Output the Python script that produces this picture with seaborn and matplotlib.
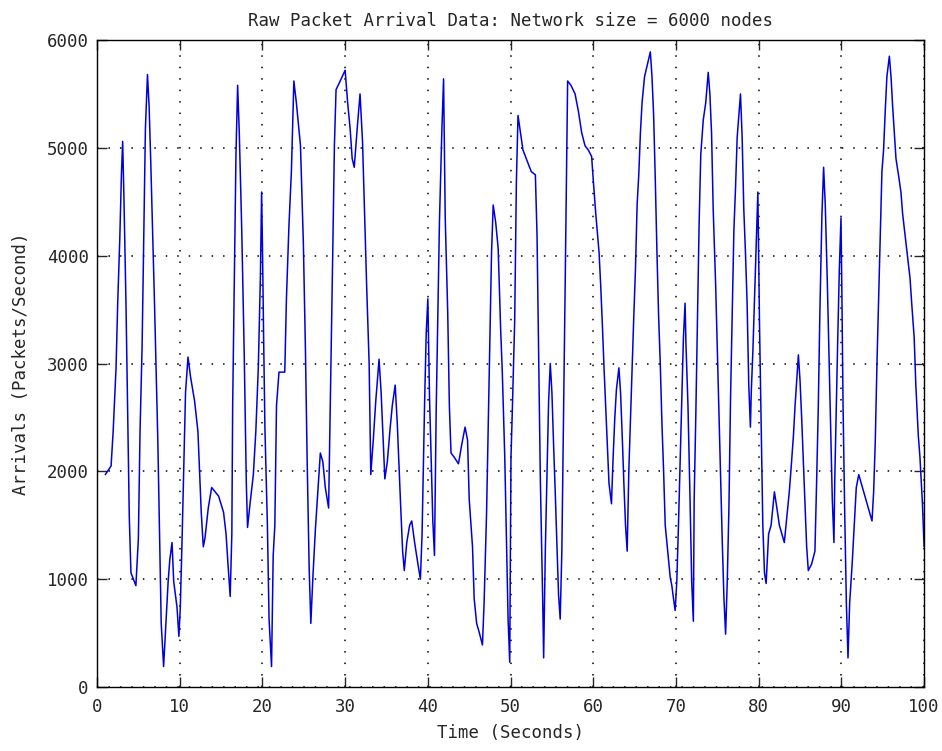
import matplotlib
matplotlib.use("Agg")
import matplotlib.pyplot as plt
import seaborn as sns
import pandas as pd

title_text = "Raw Packet Arrival Data: Network size = 6000 nodes"
x_label = "Time (Seconds)"
y_label = "Arrivals (Packets/Second)"
x_ticks = [0, 10, 20, 30, 40, 50, 60, 70, 80, 90, 100]
y_ticks = [0, 1000, 2000, 3000, 4000, 5000, 6000]

time_s = [
    1.0, 1.7, 1.95, 2.3, 2.5, 2.75, 2.95, 3.1, 3.25, 3.5, 3.7, 3.9, 4.1, 4.7, 5.0, 5.2, 5.45, 5.65, 5.85,
    6.1, 6.3, 6.5, 6.95, 7.35, 7.55, 7.76, 8.05, 8.3, 8.6, 8.8, 9.07, 9.27, 9.67, 9.9, 10.07, 10.3, 10.5,
    10.7, 11.0, 11.3, 11.8, 12.2, 12.6, 12.85, 13.05, 13.45, 13.86, 14.7, 15.3, 15.6, 15.8, 16.1, 16.3,
    16.4, 16.6, 16.8, 17.0, 17.2, 17.5, 17.8, 18.05, 18.2, 18.5, 18.9, 19.2, 19.5, 19.75, 19.9, 20.0,
    20.15, 20.3, 20.6, 20.8, 21.1, 21.3, 21.5, 21.7, 22.0, 22.7, 22.9, 23.2, 23.5, 23.8, 24.1, 24.35,
    24.6, 24.95, 25.2, 25.4, 25.65, 25.85, 26.1, 26.4, 26.7, 27.0, 27.3, 27.6, 28.0, 28.1, 28.3, 28.5,
    28.7, 28.9, 29.4, 30.0, 30.3, 30.6, 30.85, 31.1, 31.5, 31.8, 32.1, 32.3, 32.6, 32.9, 33.1, 33.4,
    33.7, 34.1, 34.35, 34.6, 34.8, 35.1, 35.45, 35.7, 36.05, 36.3, 36.7, 36.95, 37.15, 37.45, 37.8,
    38.05, 38.4, 38.8, 39.1, 39.3, 39.6, 39.8, 40.0, 40.2, 40.4, 40.6, 40.8, 41.0, 41.2, 41.4, 41.7,
    41.9, 42.1, 42.4, 42.6, 42.8, 43.2, 43.7, 44.1, 44.5, 44.8, 45.0, 45.4, 45.6, 45.9, 46.2, 46.6,
    46.8, 47.1, 47.3, 47.5, 47.7, 47.9, 48.2, 48.5, 48.8, 49.0, 49.3, 49.5, 49.7, 49.9, 50.05, 50.2,
    50.5, 50.7, 50.9, 51.2, 51.5, 51.9, 52.5, 53.0, 53.2, 53.4, 53.6, 53.9, 54.0, 54.2, 54.4, 54.6,
    54.8, 55.0, 55.2, 55.4, 55.6, 55.8, 56.0, 56.2, 56.4, 56.6, 56.8, 56.9, 57.3, 57.8, 58.2, 58.6,
    59.0, 59.4, 59.8, 60.0, 60.3, 60.7, 60.9, 61.1, 61.3, 61.5, 61.7, 61.9, 62.2, 62.4, 62.6, 62.8,
    63.1, 63.3, 63.5, 63.7, 63.9, 64.1, 64.3, 64.5, 64.7, 64.9, 65.1, 65.3, 65.5, 65.7, 65.9, 66.2,
    66.9, 67.1, 67.3, 67.5, 67.7, 67.9, 68.1, 68.3, 68.5, 68.7, 68.9, 69.1, 69.3, 69.5, 69.7, 69.9,
    70.1, 70.3, 70.5, 70.7, 70.9, 71.1, 71.2, 71.45, 71.7, 71.9, 72.1, 72.2, 72.4, 72.6, 72.8, 73.0,
    73.3, 73.6, 73.9, 74.1, 74.3, 74.5, 74.8, 75.0, 75.2, 75.4, 75.6, 75.8, 76.0, 76.2, 76.4, 76.6,
    76.8, 77.0, 77.2, 77.4, 77.6, 77.8, 78.0, 78.2, 78.4, 78.6, 78.8, 79.0, 79.1, 79.3, 79.5, 79.7,
    79.9, 80.1, 80.3, 80.5, 80.7, 80.9, 81.2, 81.5, 81.9, 82.2, 82.5, 82.8, 83.1, 83.4, 83.7, 83.9,
    84.2, 84.4, 84.6, 84.8, 85.0, 85.2, 85.4, 85.6, 85.8, 86.0, 86.4, 86.8, 87.0, 87.2, 87.4, 87.65,
    87.85, 88.05, 88.3, 88.5, 88.7, 88.9, 89.1, 89.2, 89.35, 89.55, 89.75, 89.95, 90.05, 90.2, 90.4,
    90.6, 90.8, 91.0, 91.3, 91.55, 91.8, 92.1, 92.4, 92.7, 93.1, 93.7, 93.9, 94.1, 94.3, 94.5, 94.7,
    94.9, 95.1, 95.3, 95.5, 95.8, 96.0, 96.2, 96.4, 96.6, 96.9, 97.2, 97.4, 97.7, 98.0, 98.3, 98.5,
    98.8, 99.0, 99.3, 99.5, 99.8, 100.0,
]

arrivals = [
    1970, 2050, 2370, 2960, 3560, 4150, 4750, 5060, 4550, 3560, 2570, 1580, 1060, 940, 1380, 2370, 3160, 4150, 5180,
    5680, 5380, 4860, 3560, 2290, 1460, 590, 190, 550, 980, 1180, 1340, 980, 740, 470, 740, 1420, 2090,
    2730, 3060, 2880, 2650, 2370, 1620, 1300, 1380, 1660, 1850, 1770, 1620, 1420, 1180, 840, 1420,
    2610, 3750, 4940, 5580, 5140, 4230, 3080, 1890, 1480, 1700, 1970, 2370, 2960, 3790, 4590, 4100,
    3200, 2400, 1500, 630, 190, 1220, 1500, 2610, 2920, 2920, 3600, 4270, 4780, 5620, 5420, 5220,
    5020, 4110, 3120, 2130, 1100, 590, 1020, 1460, 1810, 2170, 2090, 1850, 1660, 2130, 3080, 4030,
    5020, 5540, 5620, 5720, 5420, 5180, 4900, 4820, 5220, 5500, 5060, 4510, 3720, 3000, 1970, 2290,
    2650, 3040, 2730, 2290, 1930, 2090, 2410, 2610, 2800, 2450, 1700, 1260, 1080, 1340, 1500,
    1540, 1340, 1140, 1000, 1420, 2610, 3280, 3600, 2690, 2130, 1540, 1220, 2530, 3400, 4310, 5180,
    5640, 4350, 3480, 2610, 2170, 2130, 2070, 2250, 2410, 2290, 1740, 1300, 820, 590, 510, 390,
    780, 1620, 2410, 3240, 4030, 4470, 4310, 4070, 3320, 2920, 2130, 1380, 630, 230, 2130, 2530,
    3400, 4670, 5300, 5140, 4980, 4900, 4780, 4750, 4190, 3080, 1930, 740, 270, 1260, 1970, 2650,
    3000, 2730, 2250, 1810, 1340, 860, 630, 1260, 2530, 3720, 4980, 5620, 5580, 5500, 5340, 5140,
    5020, 4980, 4920, 4700, 4390, 4030, 3720, 3360, 2960, 2610, 2250, 1890, 1700, 2130, 2490, 2760,
    2960, 2730, 2330, 1890, 1500, 1260, 2010, 2490, 2960, 3440, 3870, 4470, 4750, 5140, 5420, 5660,
    5890, 5660, 5300, 4700, 4030, 3440, 3000, 2450, 2010, 1500, 1340, 1180, 1020, 940, 820, 710,
    980, 1500, 2090, 2690, 3240, 3560, 3200, 2610, 1740, 980, 610, 1740, 2530, 3400, 4310, 4940,
    5260, 5420, 5700, 5500, 5140, 4430, 3720, 3120, 2530, 1890, 1340, 820, 490, 980, 1660, 2690,
    3480, 4230, 4630, 5100, 5300, 5500, 5100, 4430, 4030, 3560, 2800, 2410, 2730, 3120, 3600, 4110,
    4590, 3360, 2410, 1500, 1060, 960, 1420, 1500, 1810, 1660, 1500, 1420, 1340, 1580, 1810, 2010,
    2330, 2610, 2840, 3080, 2840, 2490, 2090, 1700, 1300, 1080, 1140, 1260, 1890, 2570, 3480, 4390,
    4820, 4470, 3750, 3080, 2370, 1740, 1340, 1930, 2490, 3200, 3870, 4350, 3720, 2610, 1620,
    780, 270, 780, 1140, 1500, 1850, 1970, 1890, 1810, 1700, 1540, 1810, 2290, 3000, 3600, 4190,
    4780, 4980, 5340, 5660, 5850, 5660, 5380, 5140, 4900, 4750, 4590, 4390, 4190, 3990, 3790, 3560,
    3240, 2800, 2330, 2130, 1700, 1300,
]

df = pd.DataFrame({"time": time_s, "arrivals": arrivals})

sns.set_style("white")
plt.rcParams["font.family"] = ["DejaVu Sans Mono", "DejaVu Sans"]

fig = plt.figure(figsize=(9.42, 7.51), dpi=100)
ax = fig.add_axes([0.103, 0.0852, 0.878, 0.8615])

sns.lineplot(data=df, x="time", y="arrivals", ax=ax, color="#0000dd",
             linewidth=1.1, estimator=None, sort=False)

ax.set_xlim(0, 100)
ax.set_ylim(0, 6000)
ax.set_xticks(x_ticks)
ax.set_yticks(y_ticks)
ax.set_xticklabels([str(v) for v in x_ticks], fontsize=12.5)
ax.set_yticklabels([str(v) for v in y_ticks], fontsize=12.5)
ax.grid(True, color="black", linestyle=(0, (1, 6.5)), linewidth=1.1)
ax.tick_params(axis="x", direction="in", length=7, width=1, top=True,
               bottom=True, pad=8)
ax.tick_params(axis="y", direction="in", length=7, width=1, left=True,
               right=True, pad=6)
for sp in ax.spines.values():
    sp.set_color("black")
    sp.set_linewidth(1.0)

ax.set_xlabel(x_label, fontsize=12.5, labelpad=6)
ax.set_ylabel(y_label, fontsize=12.5, labelpad=12)
ax.set_title(title_text, fontsize=12.5, pad=10)

fig.savefig("out.png", dpi=100, facecolor="white")
